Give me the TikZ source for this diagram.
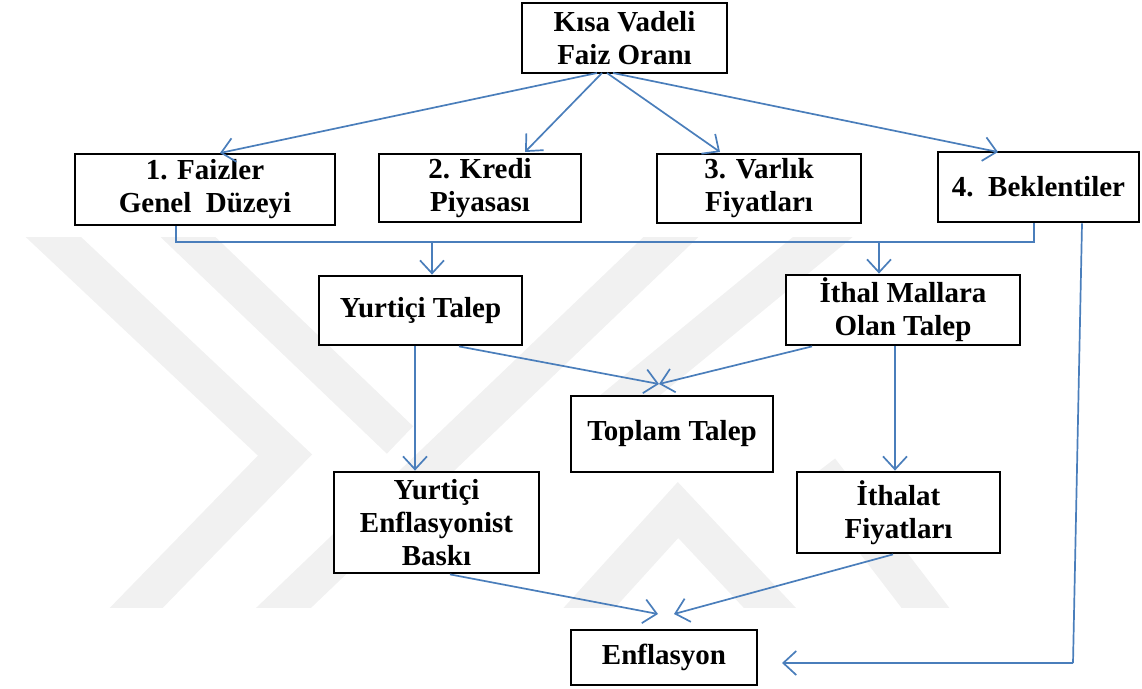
\documentclass[tikz,border=0pt]{standalone}
\usepackage{fontspec}
\setmainfont{Liberation Serif}
\usetikzlibrary{arrows.meta}
\definecolor{conn}{HTML}{4A7EBB}
\definecolor{wm}{HTML}{F1F1F1}
\tikzset{
  box/.style={draw=black, line width=2.8pt, fill=white, align=center, inner sep=0pt,
    font=\fontsize{29}{33}\selectfont\bfseries},
  conn/.style={draw=conn, line width=1.7pt},
  arr/.style={conn, -{Straight Barb[length=13pt,width=24pt,line width=1.7pt]}},
  band/.style={draw=wm, line width=38pt, line join=miter}
}
\begin{document}
\begin{tikzpicture}[x=1pt,y=-1pt]
\useasboundingbox (0,0) rectangle (1142,688);
% watermark
\begin{scope}
\clip (0,237) rectangle (1142,607);
\draw[band] (30,215) -- (285,455) -- (105,640);
\draw[band] (165,215) -- (400,440);
\draw[band] (250,640) -- (720,190);
\draw[band] (560,640) -- (678,510) -- (800,640);
\draw[band] (600,420) -- (880,190);
\draw[band] (820,470) -- (950,640);
\end{scope}
% nodes
\node[box, minimum width=205pt, minimum height=70pt] (top) at (624.5,38) {Kısa Vadeli\\Faiz Oranı};
\node[box, minimum width=260pt, minimum height=71pt] (b1) at (205,189.5) {1. Faizler\\Genel\ \ Düzeyi};
\node[box, minimum width=202pt, minimum height=68pt] (b2) at (480,188) {2. Kredi\\Piyasası};
\node[box, minimum width=204pt, minimum height=69pt] (b3) at (759,188.5) {3. Varlık\\Fiyatları};
\node[box, minimum width=201pt, minimum height=70pt] (b4) at (1038.5,187) {4.\ \ Beklentiler};
\node[box, minimum width=203pt, minimum height=69pt] (yt) at (420.5,310.5) {Yurtiçi Talep};
\node[box, minimum width=234pt, minimum height=70pt] (it) at (903,310) {İthal Mallara\\Olan Talep};
\node[box, minimum width=202pt, minimum height=76pt] (tt) at (672,434) {Toplam Talep};
\node[box, minimum width=205pt, minimum height=101pt] (ye) at (436.5,522.5) {Yurtiçi\\Enflasyonist\\Baskı};
\node[box, minimum width=203pt, minimum height=81pt] (if) at (898.5,512.5) {İthalat\\Fiyatları};
\node[box, minimum width=186pt, minimum height=55pt] (en) at (664,657.5) {Enflasyon};
% helper coordinates
\coordinate (s1) at (597,73);
\coordinate (s2) at (602,73);
\coordinate (s3) at (607,73);
\coordinate (s4) at (613,73);
\coordinate (t1) at (220,153);
\coordinate (t2) at (525,152);
\coordinate (t3) at (720,152);
\coordinate (t4) at (998,152);
\coordinate (tt1) at (659,384);
\coordinate (en1) at (658,614);
\coordinate (en2) at (674,614);
\coordinate (en3) at (782,663);
\coordinate (bend) at (1073,663);
% connectors
\draw[arr] (s1) -- (t1);
\draw[arr] (s2) -- (t2);
\draw[arr] (s3) -- (t3);
\draw[arr] (s4) -- (t4);
\draw[conn] (b1.south -| 176,0) -- (176,242) -- (1034,242) -- (b4.south -| 1034,0);
\draw[arr] (432,242) -- (yt.north -| 432,0);
\draw[arr] (879,242) -- (it.north -| 879,0);
\draw[arr] (yt.south -| 415,0) -- (ye.north -| 415,0);
\draw[arr] (yt.south -| 459,0) -- (tt1);
\draw[arr] (it.south -| 812,0) -- (tt1);
\draw[arr] (it.south -| 895,0) -- (if.north -| 895,0);
\draw[arr] (ye.south -| 450,0) -- (en1);
\draw[arr] (if.south -| 893,0) -- (en2);
\draw[conn] (b4.south -| 1082,0) -- (bend);
\draw[arr] (bend) -- (en3);
\end{tikzpicture}
\end{document}
